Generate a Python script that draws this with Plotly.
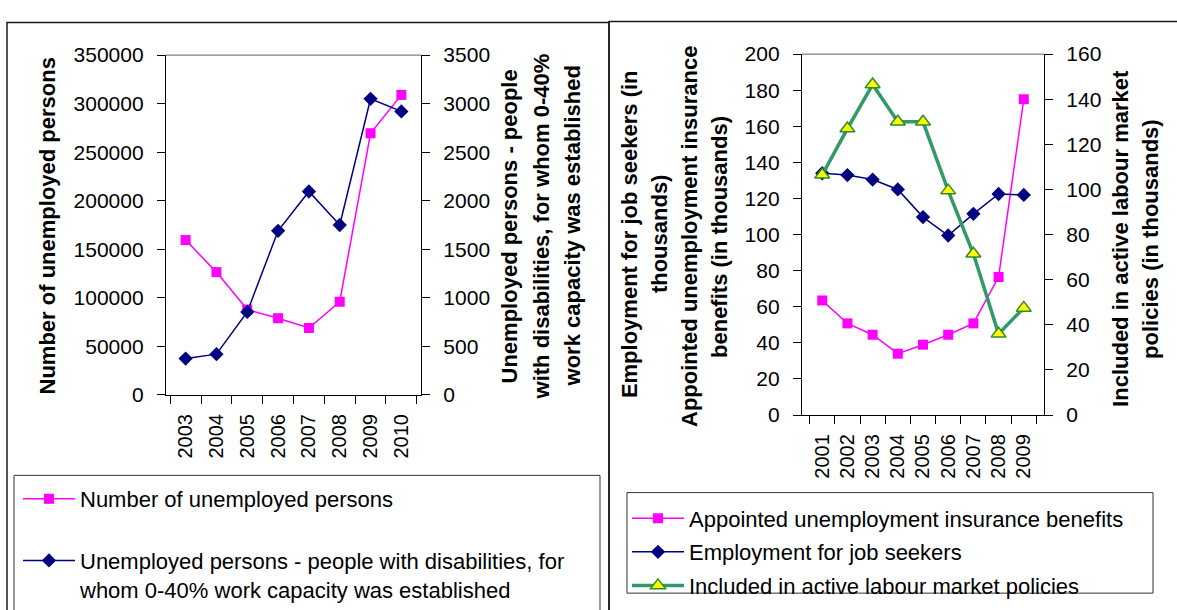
import plotly.graph_objects as go

W, H = 1177, 610
FONT = "Liberation Sans, Arial, sans-serif"

# ---- data: left chart ----
years_left = ["2003", "2004", "2005", "2006", "2007", "2008", "2009", "2010"]
unemployed_total = [159500, 126500, 88000, 79000, 69000, 96000, 269500, 309000]
unemployed_disabled = [375, 420, 855, 1690, 2095, 1750, 3050, 2920]

# ---- data: right chart ----
years_right = ["2001", "2002", "2003", "2004", "2005", "2006", "2007", "2008", "2009"]
insurance_benefits = [63.5, 50.8, 44.5, 34, 39, 44.5, 50.8, 76.5, 175]
job_seekers = [134, 133, 130.5, 125, 109.7, 99.5, 111.5, 122.5, 122]
active_policies = [106.5, 127, 146.5, 130, 130, 99.5, 71.5, 36, 47.5]

PINK = "#FF00FF"
NAVY = "#000080"
GREEN = "#339966"
YELLOW = "#FFFF00"


def px(x):
    return x / W


def py(y):
    return 1 - y / H


fig = go.Figure()

fig.add_trace(go.Scatter(
    x=years_left, y=unemployed_total, name="Number of unemployed persons",
    mode="lines+markers", line=dict(color=PINK, width=1.5),
    marker=dict(symbol="square", size=10, color=PINK),
    xaxis="x", yaxis="y", legend="legend", legendgroup="a"))
fig.add_trace(go.Scatter(
    x=years_left, y=unemployed_disabled,
    name="Unemployed persons - people with disabilities, for<br>whom 0-40% work capacity was established",
    mode="lines+markers", line=dict(color=NAVY, width=1.5),
    marker=dict(symbol="diamond", size=11, color=NAVY),
    xaxis="x", yaxis="y2", legend="legend", legendgroup="b"))

fig.add_trace(go.Scatter(
    x=years_right, y=insurance_benefits, name="Appointed unemployment insurance benefits",
    mode="lines+markers", line=dict(color=PINK, width=1.5),
    marker=dict(symbol="square", size=10, color=PINK),
    xaxis="x2", yaxis="y3", legend="legend2", legendgroup="c"))
fig.add_trace(go.Scatter(
    x=years_right, y=job_seekers, name="Employment for job seekers",
    mode="lines+markers", line=dict(color=NAVY, width=1.5),
    marker=dict(symbol="diamond", size=11, color=NAVY),
    xaxis="x2", yaxis="y3", legend="legend2", legendgroup="d"))
fig.add_trace(go.Scatter(
    x=years_right, y=active_policies, name="Included in active labour market policies",
    mode="lines+markers", line=dict(color=GREEN, width=3.5),
    marker=dict(symbol="triangle-up", size=13, color=YELLOW,
                line=dict(color="#2E8B2E", width=1.5)),
    xaxis="x2", yaxis="y4", legend="legend2", legendgroup="e"))

axis_common = dict(showline=True, linecolor="black", linewidth=1.3,
                   ticks="outside", ticklen=8, tickcolor="black", tickwidth=1.3,
                   showgrid=False, zeroline=False, ticklabelstandoff=9,
                   tickfont=dict(family=FONT, size=21, color="black"))

xcat = dict(axis_common, type="category", tickson="boundaries", tickangle=-90,
            ticklabelstandoff=10, tickfont=dict(family=FONT, size=20, color="black"))

fig.update_layout(
    width=W, height=H, margin=dict(l=0, r=0, t=0, b=0),
    paper_bgcolor="white", plot_bgcolor="white",
    font=dict(family=FONT, color="black"),
    xaxis=dict(xcat, domain=[px(166), px(421)], anchor="y"),
    yaxis=dict(axis_common, domain=[py(400), py(45)], range=[0, 350000], dtick=50000,
               tickformat="d", anchor="x"),
    yaxis2=dict(axis_common, overlaying="y", side="right", range=[0, 3500], dtick=500,
                tickformat="d", anchor="x"),
    xaxis2=dict(xcat, domain=[px(802), px(1044)], anchor="y3"),
    yaxis3=dict(axis_common, domain=[py(421), py(44)], range=[0, 200], dtick=20, anchor="x2"),
    yaxis4=dict(axis_common, overlaying="y3", side="right", range=[0, 160], dtick=20,
                anchor="x2"),
    legend=dict(x=px(18), y=py(487), xanchor="left", yanchor="top",
                borderwidth=0, bgcolor="rgba(0,0,0,0)",
                font=dict(family=FONT, size=22), itemwidth=52, valign="top",
                tracegroupgap=30, traceorder="grouped"),
    legend2=dict(x=px(627), y=py(507), xanchor="left", yanchor="top",
                 borderwidth=0, bgcolor="rgba(0,0,0,0)",
                 font=dict(family=FONT, size=22), itemwidth=52,
                 tracegroupgap=2, traceorder="grouped"),
    showlegend=True,
)

# panel frames, legend boxes and plot-area top edges
shapes = [
    dict(type="rect", xref="paper", yref="paper", x0=px(7), x1=px(609), y0=-0.05, y1=py(11),
         line=dict(color="#1a1a1a", width=1.5)),
    dict(type="rect", xref="paper", yref="paper", x0=px(609), x1=1.05, y0=-0.05, y1=py(10),
         line=dict(color="#1a1a1a", width=1.5)),
    dict(type="rect", xref="paper", yref="paper", x0=px(14), x1=px(600), y0=-0.05, y1=py(484),
         line=dict(color="#333333", width=1)),
    dict(type="rect", xref="paper", yref="paper", x0=px(627), x1=px(1153), y0=py(607), y1=py(502),
         line=dict(color="#333333", width=1)),
    dict(type="line", xref="paper", yref="paper", x0=px(166), x1=px(421), y0=py(45), y1=py(45),
         line=dict(color="#808080", width=1.3)),
    dict(type="line", xref="paper", yref="paper", x0=px(802), x1=px(1044), y0=py(44), y1=py(44),
         line=dict(color="#808080", width=1.3)),
]
fig.update_layout(shapes=shapes)

title_font = dict(family=FONT, size=22, color="black")


def vtitle(text, x, y):
    fig.add_annotation(text="<b>%s</b>" % text, xref="paper", yref="paper",
                       x=px(x), y=py(y), xanchor="center", yanchor="middle",
                       textangle=-90, showarrow=False, font=title_font)


vtitle("Number of unemployed persons", 47, 224)
vtitle("Unemployed persons - people", 509, 224)
vtitle("with disabilities, for whom 0-40%", 541, 224)
vtitle("work capacity was established", 572, 224)

vtitle("Employment for job seekers (in", 629, 232)
vtitle("thousands)", 659, 232)
vtitle("Appointed unemployment insurance", 690, 235)
vtitle("benefits (in thousands)", 720, 235)
vtitle("Included in active labour market", 1121, 237)
vtitle("policies (in thousands)", 1151, 237)

fig.write_html("out.html", config={"displayModeBar": False},
               post_script="document.body.style.margin='0';")
